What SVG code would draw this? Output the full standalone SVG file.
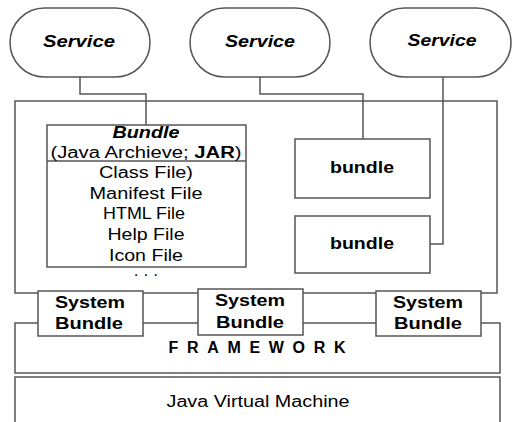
<svg xmlns="http://www.w3.org/2000/svg" width="516" height="422" viewBox="0 0 516 422">
<style>
.box{fill:#fff;stroke:#555;stroke-width:1.5}
.con{fill:none;stroke:#555;stroke-width:1.5}
text{font-family:"Liberation Sans",Arial,sans-serif;fill:#000;text-anchor:middle}
.svc{font-size:17px;font-weight:bold;font-style:italic}
.item{font-size:16px}
.b{font-size:16px;font-weight:bold}
</style>
<rect width="516" height="422" fill="#fff"/>
<g id="container"><rect class="box" x="15" y="101" width="482" height="192"/></g>
<g id="framework"><rect class="box" x="15" y="323" width="485" height="50"/>
<text class="b" x="257" y="353" textLength="177" lengthAdjust="spacing">FRAMEWORK</text></g>
<g id="jvm"><rect class="box" x="15" y="377" width="485" height="60"/>
<text class="item" x="258" y="407" textLength="183" lengthAdjust="spacingAndGlyphs">Java Virtual Machine</text></g>
<g id="connectors">
<polyline class="con" points="80,77 80,94 146,94 146,125"/>
<polyline class="con" points="260,77 260,94 363,94 363,139"/>
<polyline class="con" points="443,77 443,244 430,244"/>
</g>
<g id="service1"><rect class="box" x="10" y="8" width="140" height="69" rx="34.5" ry="34.5"/>
<text class="svc" x="79" y="47" textLength="72" lengthAdjust="spacingAndGlyphs">Service</text></g>
<g id="service2"><rect class="box" x="190" y="8" width="140" height="69" rx="34.5" ry="34.5"/>
<text class="svc" x="260" y="47" textLength="70" lengthAdjust="spacingAndGlyphs">Service</text></g>
<g id="service3"><rect class="box" x="370" y="8" width="141" height="69" rx="34.5" ry="34.5"/>
<text class="svc" x="442" y="46" textLength="69" lengthAdjust="spacingAndGlyphs">Service</text></g>
<g id="jar-bundle"><rect class="box" x="47" y="125" width="199" height="142"/>
<line class="con" x1="47" y1="161" x2="246" y2="161"/>
<text class="svc" x="146" y="138" font-size="16" textLength="67" lengthAdjust="spacingAndGlyphs">Bundle</text>
<text class="item" x="146" y="158" textLength="191" lengthAdjust="spacingAndGlyphs">(Java Archieve; <tspan font-weight="bold">JAR</tspan>)</text>
<text class="item" x="146" y="178" textLength="94" lengthAdjust="spacingAndGlyphs">Class File)</text>
<text class="item" x="146" y="199" textLength="113" lengthAdjust="spacingAndGlyphs">Manifest File</text>
<text class="item" x="144" y="219" textLength="82" lengthAdjust="spacingAndGlyphs">HTML File</text>
<text class="item" x="146" y="240" textLength="77" lengthAdjust="spacingAndGlyphs">Help File</text>
<text class="item" x="146" y="261" textLength="74" lengthAdjust="spacingAndGlyphs">Icon File</text>
<text class="item" x="146" y="280">· · ·</text></g>
<g id="bundle1"><rect class="box" x="295" y="139" width="135" height="59"/>
<text class="b" x="362" y="173" textLength="64" lengthAdjust="spacingAndGlyphs">bundle</text></g>
<g id="bundle2"><rect class="box" x="295" y="216" width="135" height="57"/>
<text class="b" x="362" y="249" textLength="64" lengthAdjust="spacingAndGlyphs">bundle</text></g>
<g id="sysbundle1"><rect class="box" x="38" y="291" width="105" height="45"/>
<text class="b" x="90" y="308" textLength="70" lengthAdjust="spacingAndGlyphs">System</text>
<text class="b" x="89" y="329" textLength="68" lengthAdjust="spacingAndGlyphs">Bundle</text></g>
<g id="sysbundle2"><rect class="box" x="198" y="289" width="105" height="46"/>
<text class="b" x="250" y="306" textLength="70" lengthAdjust="spacingAndGlyphs">System</text>
<text class="b" x="250" y="328" textLength="68" lengthAdjust="spacingAndGlyphs">Bundle</text></g>
<g id="sysbundle3"><rect class="box" x="376" y="291" width="105" height="45"/>
<text class="b" x="428" y="308" textLength="70" lengthAdjust="spacingAndGlyphs">System</text>
<text class="b" x="428" y="329" textLength="68" lengthAdjust="spacingAndGlyphs">Bundle</text></g>
</svg>
